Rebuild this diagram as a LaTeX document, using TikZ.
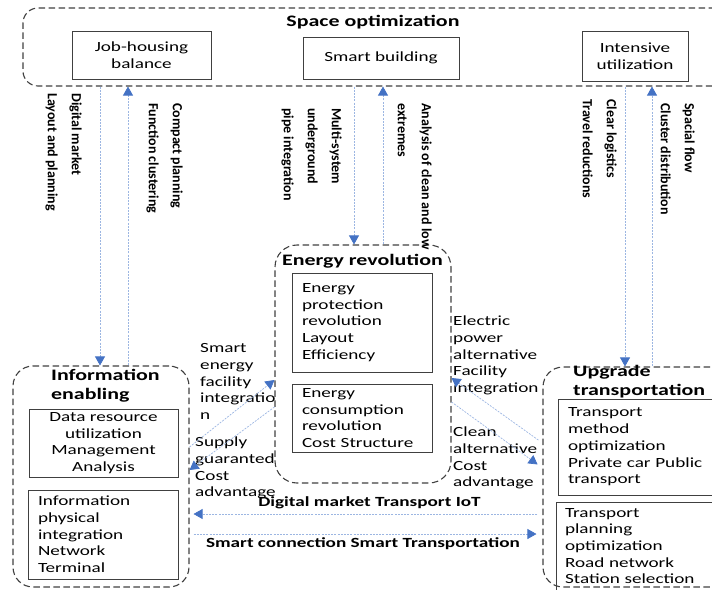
\documentclass[tikz,border=0pt]{standalone}
\usepackage{fontspec}
\setmainfont{Carlito}[FakeStretch=1.37]
\newfontfamily\vfont{Carlito}
\usetikzlibrary{arrows.meta}
\definecolor{bord}{HTML}{404040}
\definecolor{lineblue}{HTML}{9CB6E2}
\definecolor{headblue}{HTML}{4472C4}
\tikzset{
 dbox/.style={draw=bord, line width=1.1pt, dash pattern=on 6.5pt off 3.5pt, rounded corners=18pt, inner sep=0pt},
 ibox/.style={draw=bord, line width=1pt, inner sep=0pt, font=\fontsize{14}{16.7}\selectfont},
 flow/.style={draw=lineblue, line width=0.7pt, dash pattern=on 2pt off 1.2pt, -{Triangle[length=9pt,width=10pt,color=headblue]}},
 lbl/.style={inner sep=0pt, align=left, font=\fontsize{14}{16.7}\selectfont},
 vlbl/.style={inner sep=0pt, align=left, rotate=-90, anchor=north west, font=\vfont\bfseries\fontsize{14}{24}\selectfont},
 ttl/.style={inner sep=0pt, font=\bfseries\fontsize{16}{19}\selectfont},
 blbl/.style={inner sep=0pt, font=\bfseries\fontsize{14}{17}\selectfont},
}
\begin{document}
\begin{tikzpicture}[x=1pt,y=-1pt]
\useasboundingbox (0,0) rectangle (712,589);
\clip (0,0) rectangle (712,589);
% space optimization
\node[dbox, minimum width=717pt, minimum height=78pt, rounded corners=15pt] (space) at (381.5,47) {};
\node[ttl] (spacet) at (373,22) {Space optimization};
\node[ibox, minimum width=139pt, minimum height=48pt, align=center] (job) at (141.5,55) {Job-housing\\balance};
\node[ibox, minimum width=156pt, minimum height=42pt] (smart) at (381,58) {Smart building};
\node[ibox, minimum width=106pt, minimum height=50pt, align=center] (inten) at (635,56) {Intensive\\utilization};
% information enabling
\node[dbox, minimum width=176pt, minimum height=221pt, rounded corners=20pt] (info) at (101,476.5) {};
\node[ttl, align=left, anchor=west] (infot) at (51,386) {Information\\enabling};
\node[ibox, minimum width=149pt, minimum height=68pt, align=center] (data) at (103.5,443) {Data resource\\utilization\\Management\\Analysis};
\node[ibox, text width=130pt, inner xsep=10pt, minimum height=89pt, align=left] (phys) at (103,534.5) {Information\\physical\\integration\\Network\\Terminal};
% energy revolution
\node[dbox, minimum width=176pt, minimum height=238pt, rounded corners=22pt] (energy) at (363,364) {};
\node[ttl] (energyt) at (362.5,261) {Energy revolution};
\node[ibox, text width=120pt, inner xsep=10pt, minimum height=99pt, align=left] (eprot) at (362,322.5) {Energy\\protection\\revolution\\Layout\\Efficiency};
\node[ibox, text width=120pt, inner xsep=10pt, minimum height=68pt, align=left] (econs) at (362,418) {Energy\\consumption\\revolution\\Cost Structure};
% upgrade transportation
\node[dbox, minimum width=197pt, minimum height=220pt, rounded corners=20pt] (upg) at (641.5,477) {};
\node[ttl, align=left, anchor=west] (upgt) at (573,382) {Upgrade\\transportation};
\node[ibox, text width=152pt, inner xsep=10pt, minimum height=96pt, align=left] (tmeth) at (644,447) {Transport\\method\\optimization\\Private car Public\\transport};
\node[ibox, text width=156pt, inner xsep=9pt, minimum height=88pt, align=left] (tplan) at (643,546) {Transport\\planning\\optimization\\Road network\\Station selection};
% vertical labels
\node[vlbl] (l1) at (82,93) {Digital market\\Layout and planning};
\node[vlbl] (l2) at (183,103) {Compact planning\\Function clustering};
\node[vlbl] (l3) at (342,108) {Multi-system\\underground\\pipe integration};
\node[vlbl] (l4) at (432,103) {Analysis of clean and low\\extremes};
\node[vlbl] (l5) at (617,99) {Clear logistics\\Travel reductions};
\node[vlbl] (l6) at (695,103) {Spacial flow\\Cluster distribution};
% side labels
\node[lbl, anchor=west] (lsmart) at (200,381.5) {Smart\\energy\\facility\\integratio\\n};
\node[lbl, anchor=west] (lsupply) at (195,468) {Supply\\guaranted\\Cost\\advantage};
\node[lbl, anchor=west] (lelec) at (453,355.5) {Electric\\power\\alternative\\Facility\\integration};
\node[lbl, anchor=west] (lclean) at (453,458) {Clean\\alternative\\Cost\\advantage};
\node[blbl] (ldig) at (369.5,503) {Digital market Transport IoT};
\node[blbl] (lconn) at (363,544) {Smart connection Smart Transportation};
% arrows
\draw[flow] (space.south -| 100,0) -- (info.north -| 100,0);
\draw[flow] (info.north -| 128,0) -- (space.south -| 128,0);
\draw[flow] (space.south -| 354,0) -- (energy.north -| 354,0);
\draw[flow] (energy.north -| 383,0) -- (space.south -| 383,0);
\draw[flow] (space.south -| 625,0) -- (upg.north -| 625,0);
\draw[flow] (upg.north -| 652,0) -- (space.south -| 652,0);
\draw[flow] (info.east |- 0,447) -- (energy.west |- 0,380);
\draw[flow] (energy.west |- 0,407) -- (info.east |- 0,470);
\draw[flow, shorten <=5pt] (upg.west |- 0,443) -- (energy.east |- 0,378);
\draw[flow, shorten >=6pt] (energy.east |- 0,402) -- (upg.west |- 0,468);
\draw[flow, shorten <=5pt, shorten >=4pt] (upg.west |- 0,514) -- (info.east |- 0,514);
\draw[flow, shorten <=4pt, shorten >=6pt] (info.east |- 0,534) -- (upg.west |- 0,534);
\end{tikzpicture}
\end{document}
